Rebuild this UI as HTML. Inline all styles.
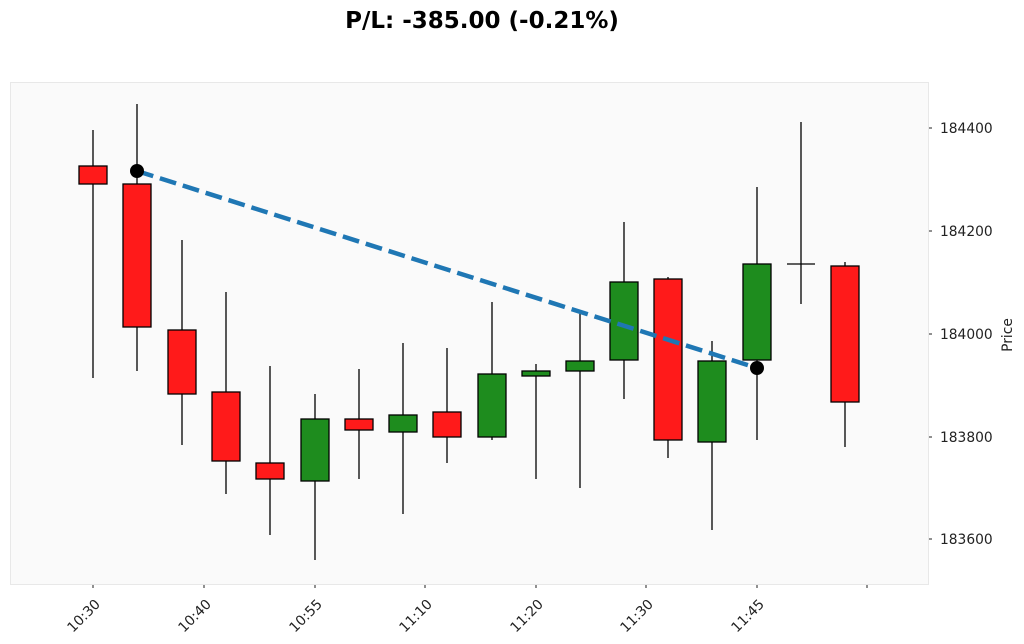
<!DOCTYPE html>
<html><head><meta charset="utf-8"><style>
html,body{margin:0;padding:0;background:#fff;}
svg{display:block;font-family:"DejaVu Sans","Liberation Sans",sans-serif;}
</style></head><body>
<svg width="1024" height="644" viewBox="0 0 1024 644" xmlns="http://www.w3.org/2000/svg">
<rect x="0" y="0" width="1024" height="644" fill="#fff"/>
<text x="482" y="28" font-size="23" font-weight="bold" text-anchor="middle" fill="#000">P/L: -385.00 (-0.21%)</text>
<rect x="10.5" y="82.5" width="918" height="502" fill="#fafafa" stroke="#e8e8e8" stroke-width="1"/>
<g stroke="#000" stroke-width="1.3">
<line x1="93" y1="130" x2="93" y2="378"/><rect x="79" y="166" width="28" height="18" fill="#ff1a1a"/>
<line x1="137" y1="104" x2="137" y2="371"/><rect x="123" y="184" width="28" height="143" fill="#ff1a1a"/>
<line x1="182" y1="240" x2="182" y2="445"/><rect x="168" y="330" width="28" height="64" fill="#ff1a1a"/>
<line x1="226" y1="292" x2="226" y2="494"/><rect x="212" y="392" width="28" height="69" fill="#ff1a1a"/>
<line x1="270" y1="366" x2="270" y2="535"/><rect x="256" y="463" width="28" height="16" fill="#ff1a1a"/>
<line x1="315" y1="394" x2="315" y2="560"/><rect x="301" y="419" width="28" height="62" fill="#1e8c1e"/>
<line x1="359" y1="369" x2="359" y2="479"/><rect x="345" y="419" width="28" height="11" fill="#ff1a1a"/>
<line x1="403" y1="343" x2="403" y2="514"/><rect x="389" y="415" width="28" height="17" fill="#1e8c1e"/>
<line x1="447" y1="348" x2="447" y2="463"/><rect x="433" y="412" width="28" height="25" fill="#ff1a1a"/>
<line x1="492" y1="302" x2="492" y2="440"/><rect x="478" y="374" width="28" height="63" fill="#1e8c1e"/>
<line x1="536" y1="364" x2="536" y2="479"/><rect x="522" y="371" width="28" height="5" fill="#1e8c1e"/>
<line x1="580" y1="313" x2="580" y2="488"/><rect x="566" y="361" width="28" height="10" fill="#1e8c1e"/>
<line x1="624" y1="222" x2="624" y2="399"/><rect x="610" y="282" width="28" height="78" fill="#1e8c1e"/>
<line x1="668" y1="277" x2="668" y2="458"/><rect x="654" y="279" width="28" height="161" fill="#ff1a1a"/>
<line x1="712" y1="341" x2="712" y2="530"/><rect x="698" y="361" width="28" height="81" fill="#1e8c1e"/>
<line x1="757" y1="187" x2="757" y2="440"/><rect x="743" y="264" width="28" height="96" fill="#1e8c1e"/>
<line x1="801" y1="122" x2="801" y2="304"/><line x1="787" y1="264" x2="815" y2="264"/>
<line x1="845" y1="262" x2="845" y2="447"/><rect x="831" y="266" width="28" height="136" fill="#ff1a1a"/>
</g>
<line x1="137" y1="171" x2="757" y2="368" stroke="#1f77b4" stroke-width="4.5" stroke-dasharray="17,7"/>
<circle cx="137" cy="171" r="7" fill="#000"/>
<circle cx="757" cy="368" r="7" fill="#000"/>
<g stroke="#222" stroke-width="1">
<line x1="929" y1="128" x2="932" y2="128"/><line x1="929" y1="231" x2="932" y2="231"/>
<line x1="929" y1="334" x2="932" y2="334"/><line x1="929" y1="437" x2="932" y2="437"/>
<line x1="929" y1="539" x2="932" y2="539"/>
<line x1="93" y1="585" x2="93" y2="588"/><line x1="204" y1="585" x2="204" y2="588"/>
<line x1="315" y1="585" x2="315" y2="588"/><line x1="425" y1="585" x2="425" y2="588"/>
<line x1="536" y1="585" x2="536" y2="588"/><line x1="646" y1="585" x2="646" y2="588"/>
<line x1="757" y1="585" x2="757" y2="588"/><line x1="867" y1="585" x2="867" y2="588"/>
</g>
<g font-size="13.8" fill="#222">
<text x="940" y="133">184400</text><text x="940" y="236">184200</text>
<text x="940" y="339">184000</text><text x="940" y="442">183800</text>
<text x="940" y="544">183600</text>
</g>
<text transform="translate(1012,335) rotate(-90)" font-size="13.8" text-anchor="middle" fill="#222">Price</text>
<g font-size="13.8" fill="#222" text-anchor="end">
<text transform="translate(101,605) rotate(-45)">10:30</text>
<text transform="translate(212,605) rotate(-45)">10:40</text>
<text transform="translate(323,605) rotate(-45)">10:55</text>
<text transform="translate(433,605) rotate(-45)">11:10</text>
<text transform="translate(544,605) rotate(-45)">11:20</text>
<text transform="translate(654,605) rotate(-45)">11:30</text>
<text transform="translate(765,605) rotate(-45)">11:45</text>
</g>
</svg>
</body></html>
